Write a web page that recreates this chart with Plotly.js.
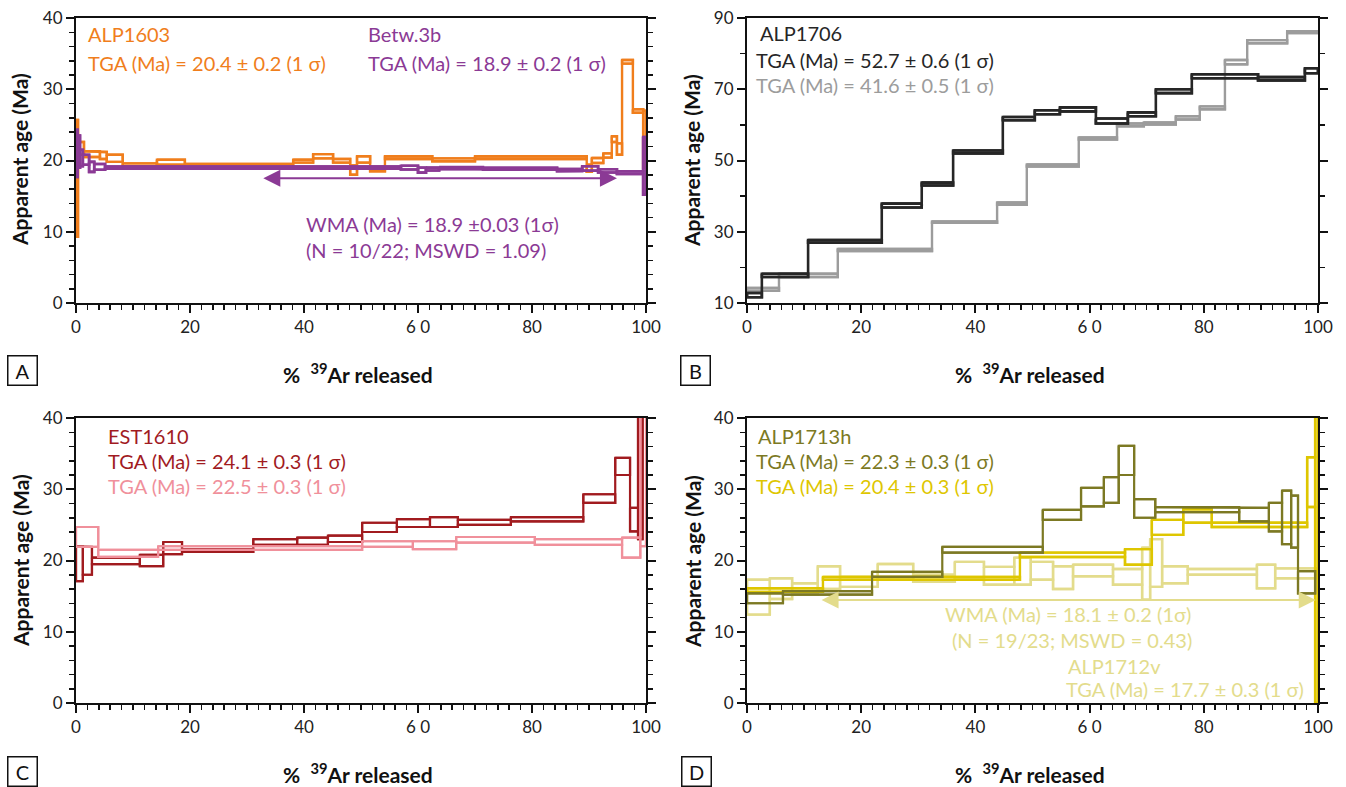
<!DOCTYPE html>
<html>
<head>
<meta charset="utf-8">
<script src="https://cdn.plot.ly/plotly-3.0.1.min.js"></script>
<style>html,body{margin:0;padding:0;background:#fff;}#chart{width:1346px;height:787px;}</style>
</head>
<body>
<div id="chart"></div>
<script>
// ---------------- DATA ----------------
// Panel A : ALP1603 (orange) & Betw.3b (purple)
const alp1603_x   = [0,0.35,1.4,4.2,5.4,8.2,14.2,19.1,38.1,41.6,45.1,48.1,49.3,51.6,54.2,62.5,70.0,89.6,90.5,92.5,94.0,94.9,95.8,97.7,99.5,100];
const alp1603_age = [17.5,21.7,20.9,20.7,20.3,19.4,19.75,19.3,19.9,20.6,19.95,18.65,20.15,18.8,20.4,20.1,20.4,18.9,20.0,20.7,23.0,21.6,33.85,26.95,23.0];
const alp1603_err = [8.2,0.9,0.4,0.5,0.5,0.2,0.35,0.2,0.2,0.3,0.25,0.65,0.45,0.3,0.2,0.2,0.2,0.5,0.35,0.3,0.4,0.8,0.25,0.25,4.0];

const betw3b_x   = [0,0.3,0.7,1.2,2.3,3.2,5.1,57.0,60.0,61.4,63.7,71.4,84.4,88.8,91.6,94.9,99.5,100];
const betw3b_age = [21.0,21.25,20.35,20.1,19.1,19.1,19.0,19.0,18.65,18.8,18.95,18.85,18.65,18.9,18.55,18.3,19.25];
const betw3b_err = [3.3,2.25,1.15,0.7,0.7,0.4,0.15,0.27,0.35,0.2,0.13,0.13,0.15,0.3,0.23,0.2,4.05];
const betw3b_wma = [32.6, 94.9, 17.5];   // from %, to %, drawn age

// Panel B : ALP1706 (black & grey)
const alp1706a_x   = [0,2.6,10.7,23.6,30.6,36.1,44.8,50.4,54.8,61.1,66.7,71.6,77.9,89.5,97.7,100];
const alp1706a_age = [12.2,17.75,27.3,37.35,43.4,52.4,61.75,63.55,64.35,61.1,62.95,69.45,73.65,72.95,75.2];
const alp1706a_err = [0.6,0.45,0.4,0.55,0.4,0.4,0.45,0.55,0.55,0.7,0.55,0.55,0.55,0.45,0.7];

const alp1706b_x   = [0,5.6,15.9,32.4,43.8,49.0,58.1,64.8,69.5,75.1,79.3,83.7,87.6,94.6,100];
const alp1706b_age = [13.8,17.75,24.9,32.7,37.9,48.6,56.2,60.0,60.4,61.95,64.8,77.6,83.35,86.05];
const alp1706b_err = [0.4,0.45,0.3,0.2,0.3,0.3,0.3,0.4,0.3,0.45,0.4,0.6,0.45,0.25];

// Panel C : EST1610 (dark red & pink)
const est1610a_x   = [0,1.2,2.8,11.2,15.3,18.6,31.1,38.8,44.2,50.2,56.3,62.1,67.0,76.3,89.0,94.6,97.2,98.6,99.4];
const est1610a_age = [19.55,19.95,19.95,20.0,21.75,21.4,22.6,22.7,23.05,24.65,25.25,25.4,25.35,25.8,28.7,33.2,25.75,34.0];
const est1610a_err = [2.45,1.95,0.45,0.8,0.85,0.2,0.4,0.5,0.45,0.65,0.55,0.7,0.35,0.3,0.6,1.2,1.65,11.0];

const est1610b_x   = [0,3.9,14.4,50.2,59.1,66.7,80.5,95.8,99.0,100];
const est1610b_age = [23.3,21.0,21.75,22.3,22.15,22.9,22.6,21.8,33.5];
const est1610b_err = [1.4,0.5,0.25,0.4,0.55,0.4,0.4,1.4,11.5];

// Panel D : ALP1713h (olive & yellow), ALP1712v (light yellow)
const alp1713a_x   = [0,6.3,21.9,34.2,51.8,58.5,62.5,65.1,67.8,71.5,86.2,91.4,93.7,95.3,96.5,99.5];
const alp1713a_age = [14.7,15.45,18.05,21.5,26.4,28.9,29.9,34.05,27.3,27.15,26.45,26.1,26.05,25.45,16.95];
const alp1713a_err = [0.7,0.25,0.35,0.4,0.7,1.3,1.8,2.05,1.3,0.35,0.95,2.0,3.75,3.65,1.55];

const alp1713b_x   = [0,13.3,47.8,66.2,70.9,76.4,81.4,98.1,99.5,100];
const alp1713b_age = [15.85,17.5,20.8,20.5,24.65,26.25,25.0,31.0,22.5];
const alp1713b_err = [0.25,0.2,0.3,1.1,1.05,0.95,0.3,3.5,22.5];

const alp1712v_x   = [0,4.0,7.9,12.4,16.3,22.9,29.1,36.4,41.5,46.8,49.7,53.6,57.1,64.1,69.2,70.6,72.7,77.2,89.3,92.5,99.8];
const alp1712v_age = [14.85,16.05,16.05,17.6,17.0,18.4,17.5,18.55,17.85,18.5,18.55,17.6,18.6,17.7,18.15,19.65,18.0,18.4,17.75,18.2];
const alp1712v_err = [2.45,1.45,0.75,1.6,0.7,1.1,0.5,1.25,1.25,1.9,1.25,1.6,0.8,1.1,3.65,3.35,1.2,0.4,1.65,0.7];
const alp1712v_wma = [12.8, 99.6, 14.45];

const xTickVals = [0,20,40,60,80,100];
const xTickText = ['0','20','40','6 0','80','100'];
const yTicksA = [0,10,20,30,40];
const yTicksB = [10,30,50,70,90];

// ---------------- STYLE ----------------
const C = {
  orange:'#F07E1C', purple:'#8B3A95', black:'#262626', grey:'#9C9C9C',
  red:'#A11B1F', pink:'#F0909B', olive:'#7C7923', yellow:'#DEC600', light:'#E3DC8C'
};
const FONT = 'Lato, "Open Sans", sans-serif';
const W = 1346, H = 787;
const px = v => v / W;
const py = v => 1 - v / H;

// age spectrum: upper & lower step outlines + individual step boxes
function spectrumPath(xb, age, err) {
  const X = [], Y = [];
  const n = age.length;
  for (let i = 0; i < n; i++) { X.push(xb[i], xb[i + 1]); Y.push(age[i] + err[i], age[i] + err[i]); }
  for (let i = n - 1; i >= 0; i--) { X.push(xb[i + 1], xb[i]); Y.push(age[i] - err[i], age[i] - err[i]); }
  X.push(xb[0], null); Y.push(age[0] + err[0], null);
  for (let i = 0; i < n; i++) {
    const x0 = xb[i], x1 = xb[i + 1], lo = age[i] - err[i], hi = age[i] + err[i];
    X.push(x0, x1, x1, x0, x0, null);
    Y.push(hi, hi, lo, lo, hi, null);
  }
  return {X, Y};
}
function spec(xb, age, err, color, width, xa, ya) {
  const b = spectrumPath(xb, age, err);
  return {x: b.X, y: b.Y, xaxis: xa, yaxis: ya, type: 'scatter', mode: 'lines',
          line: {color: color, width: width}, connectgaps: false, hoverinfo: 'skip', showlegend: false};
}

const traces = [
  spec(alp1603_x, alp1603_age, alp1603_err, C.orange, 2.4, 'x', 'y'),
  spec(betw3b_x, betw3b_age, betw3b_err, C.purple, 2.6, 'x', 'y'),
  spec(alp1706b_x, alp1706b_age, alp1706b_err, C.grey, 2.4, 'x2', 'y2'),
  spec(alp1706a_x, alp1706a_age, alp1706a_err, C.black, 2.6, 'x2', 'y2'),
  spec(est1610a_x, est1610a_age, est1610a_err, C.red, 2.2, 'x3', 'y3'),
  spec(est1610b_x, est1610b_age, est1610b_err, C.pink, 2.2, 'x3', 'y3'),
  spec(alp1712v_x, alp1712v_age, alp1712v_err, C.light, 2.4, 'x4', 'y4'),
  spec(alp1713b_x, alp1713b_age, alp1713b_err, C.yellow, 2.4, 'x4', 'y4'),
  spec(alp1713a_x, alp1713a_age, alp1713a_err, C.olive, 2.2, 'x4', 'y4')
];

const domLeft = [px(76), px(646)], domRight = [px(747), px(1318)];
const domTop = [py(303), py(18)], domBot = [py(703), py(418)];

function xax(domain, anchor) {
  return {domain: domain, anchor: anchor, range: [0, 100], showline: true, linewidth: 2, linecolor: '#111',
          mirror: true, ticks: 'outside', ticklen: 8, tickwidth: 2, tickcolor: '#111',
          tickmode: 'array', tickvals: xTickVals, ticktext: xTickText,
          minor: {dtick: 2, tick0: 0, ticks: 'outside', ticklen: 5, tickwidth: 1.5, tickcolor: '#111'},
          showgrid: false, zeroline: false, fixedrange: true,
          tickfont: {family: FONT, size: 17, color: '#222'}};
}
function yax(domain, anchor, range, tv, mdt) {
  return {domain: domain, anchor: anchor, range: range, showline: true, linewidth: 2, linecolor: '#111',
          mirror: 'ticks', ticks: 'outside', ticklen: 8, tickwidth: 2, tickcolor: '#111',
          tickmode: 'array', tickvals: tv, ticktext: tv.map(String),
          minor: {dtick: mdt, tick0: range[0], ticks: 'outside', ticklen: 5, tickwidth: 1.5, tickcolor: '#111'},
          showgrid: false, zeroline: false, fixedrange: true,
          tickfont: {family: FONT, size: 17, color: '#222'}};
}

function txt(x, y, text, color, extra) {
  return Object.assign({xref: 'paper', yref: 'paper', x: px(x), y: py(y), text: text, showarrow: false,
    xanchor: 'left', yanchor: 'middle', font: {family: FONT, size: 20, color: color}}, extra || {});
}
function arrow(w, color, xr, yr) {
  return {xref: xr, yref: yr, axref: xr, ayref: yr, x: w[1], y: w[2], ax: w[0], ay: w[2], text: '',
          showarrow: true, arrowside: 'end+start', arrowhead: 2, startarrowhead: 2,
          arrowsize: 1.7, startarrowsize: 1.7, arrowwidth: 2, arrowcolor: color, standoff: 0, startstandoff: 0};
}
const ageTitle = '<b>Apparent age (Ma)</b>';
const arTitle = '<b>%  <sup>39</sup>Ar released</b>';
function ytitle(x, y) { return {xref: 'paper', yref: 'paper', x: px(x), y: py(y), text: ageTitle, textangle: -90,
  showarrow: false, xanchor: 'center', yanchor: 'middle', font: {family: FONT, size: 21, color: '#111'}}; }
function xtitle(x, y) { return {xref: 'paper', yref: 'paper', x: px(x), y: py(y), text: arTitle,
  showarrow: false, xanchor: 'center', yanchor: 'middle', font: {family: FONT, size: 21, color: '#111'}}; }
function panel(x, y, t) { return {xref: 'paper', yref: 'paper', x: px(x), y: py(y), text: t, showarrow: false,
  xanchor: 'center', yanchor: 'middle', bordercolor: '#111', borderwidth: 1.5, borderpad: 2,
  width: 24, height: 24, align: 'center', valign: 'middle',
  font: {family: FONT, size: 20, color: '#111'}}; }

const annotations = [
  // A
  txt(86, 34, 'ALP1603', C.orange),
  txt(86, 63, 'TGA (Ma) = 20.4 ± 0.2 (1 σ)', C.orange),
  txt(366, 34, 'Betw.3b', C.purple),
  txt(366, 63, 'TGA (Ma) = 18.9 ± 0.2 (1 σ)', C.purple),
  txt(304, 224, 'WMA (Ma) = 18.9 ±0.03 (1σ)', C.purple),
  txt(304, 250, '(N = 10/22; MSWD = 1.09)', C.purple),
  arrow(betw3b_wma, C.purple, 'x', 'y'),
  // B
  txt(758, 33, 'ALP1706', C.black),
  txt(754, 60, 'TGA (Ma) = 52.7 ± 0.6 (1 σ)', C.black),
  txt(754, 85, 'TGA (Ma) = 41.6 ± 0.5 (1 σ)', C.grey),
  // C
  txt(106, 436, 'EST1610', C.red),
  txt(106, 461, 'TGA (Ma) = 24.1 ± 0.3 (1 σ)', C.red),
  txt(106, 486, 'TGA (Ma) = 22.5 ± 0.3 (1 σ)', C.pink),
  // D
  txt(756, 436, 'ALP1713h', C.olive),
  txt(754, 461, 'TGA (Ma) = 22.3 ± 0.3 (1 σ)', C.olive),
  txt(754, 486, 'TGA (Ma) = 20.4 ± 0.3 (1 σ)', C.yellow),
  txt(1068, 614, 'WMA (Ma) = 18.1 ± 0.2 (1σ)', C.light, {xanchor: 'center'}),
  txt(1072, 640, '(N = 19/23; MSWD = 0.43)', C.light, {xanchor: 'center'}),
  txt(1066, 666, 'ALP1712v', C.light),
  txt(1064, 689, 'TGA (Ma) = 17.7 ± 0.3 (1 σ)', C.light),
  arrow(alp1712v_wma, C.light, 'x4', 'y4'),
  // axis titles
  ytitle(20, 160), ytitle(692, 160), ytitle(20, 561), ytitle(692, 561),
  xtitle(358, 373), xtitle(1030, 373), xtitle(358, 773), xtitle(1030, 773),
  panel(23, 370, 'A'), panel(695, 370, 'B'), panel(23, 771, 'C'), panel(696, 771, 'D')
];

const layout = {
  width: W, height: H, margin: {l: 0, r: 0, t: 0, b: 0}, paper_bgcolor: '#fff', plot_bgcolor: '#fff',
  showlegend: false, font: {family: FONT},
  xaxis: xax(domLeft, 'y'),  yaxis: yax(domTop, 'x', [0, 40], yTicksA, 2),
  xaxis2: xax(domRight, 'y2'), yaxis2: yax(domTop, 'x2', [10, 90], yTicksB, 10),
  xaxis3: xax(domLeft, 'y3'), yaxis3: yax(domBot, 'x3', [0, 40], yTicksA, 2),
  xaxis4: xax(domRight, 'y4'), yaxis4: yax(domBot, 'x4', [0, 40], yTicksA, 2),
  annotations: annotations
};
Plotly.newPlot('chart', traces, layout, {staticPlot: true, displayModeBar: false});
</script>
</body>
</html>
